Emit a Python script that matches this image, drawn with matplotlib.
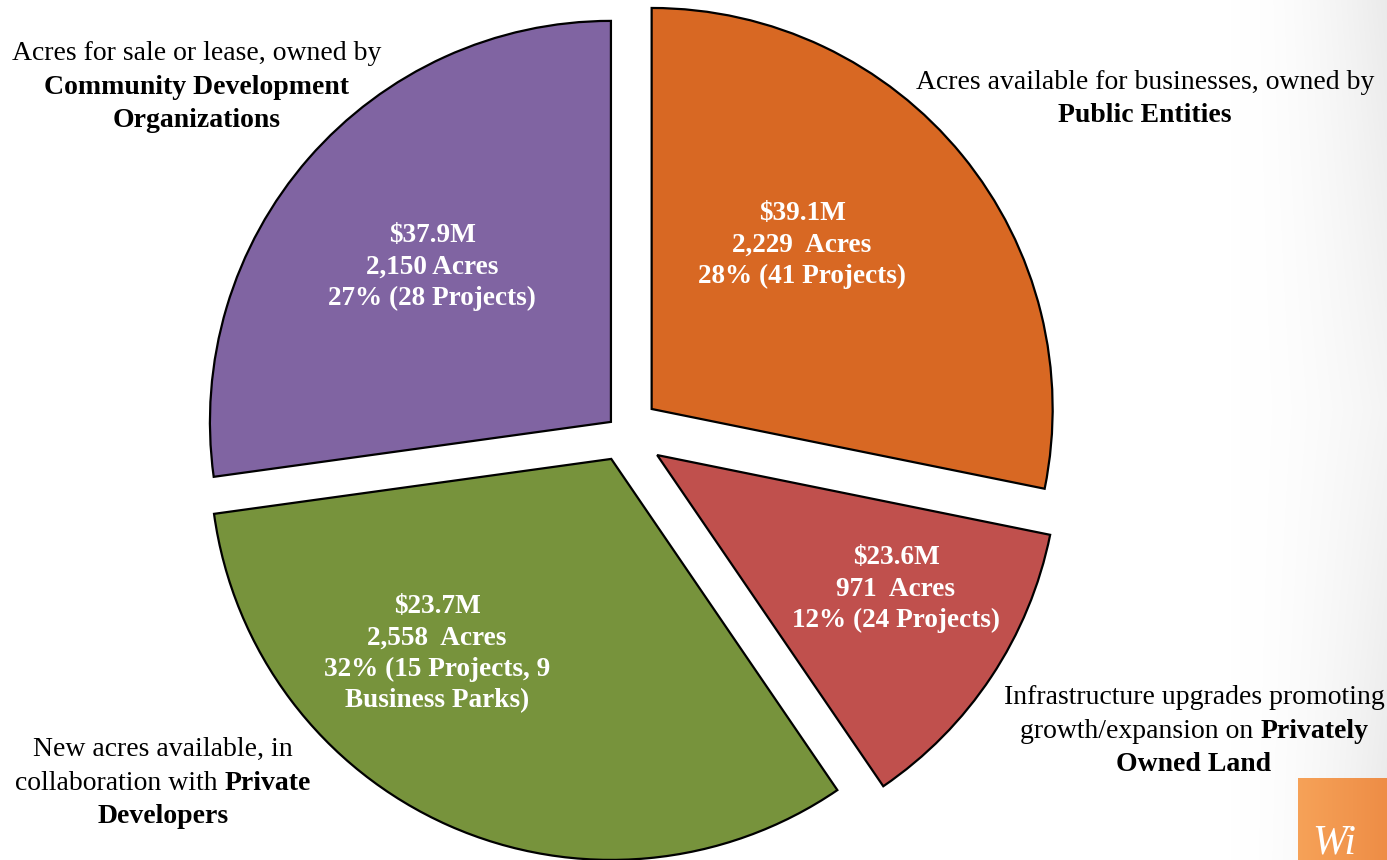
import numpy as np
import matplotlib.pyplot as plt
from matplotlib.patches import Rectangle

# slices in drawing order (clockwise from 12 o'clock)
names = ['Public Entities', 'Privately Owned Land', 'Private Developers',
         'Community Development Organizations']
acres = [2229, 971, 2558, 2150]
colors = ['#D86823', '#C0504D', '#77933C', '#8064A2']
explode = [37, 41, 29, 16]

inner_labels = [
    ['$39.1M', '2,229  Acres', '28% (41 Projects)'],
    ['$23.6M', '971  Acres', '12% (24 Projects)'],
    ['$23.7M', '2,558  Acres', '32% (15 Projects, 9', 'Business Parks)'],
    ['$37.9M', '2,150 Acres', '27% (28 Projects)'],
]
# (x centre, first baseline) in image pixels
inner_pos = [(802, 220), (896, 564), (437, 613), (432, 242)]

outer_labels = [
    [[('Acres available for businesses, owned by', 'normal')],
     [('Public Entities', 'bold')]],
    [[('Infrastructure upgrades promoting', 'normal')],
     [('growth/expansion on ', 'normal'), ('Privately', 'bold')],
     [('Owned Land', 'bold')]],
    [[('New acres available, in', 'normal')],
     [('collaboration with ', 'normal'), ('Private', 'bold')],
     [('Developers', 'bold')]],
    [[('Acres for sale or lease, owned by', 'normal')],
     [('Community Development', 'bold')],
     [('Organizations', 'bold')]],
]
outer_pos = [(1145, 89), (1194, 704), (163, 756), (197, 60)]

W, H = 1387, 860
FS_OUT = 20
FS_IN = 19.6
LS = 33.5
FONT = 'Liberation Serif'

fig = plt.figure(figsize=(W / 100, H / 100), dpi=100)
ax = fig.add_axes([0, 0, 1, 1])

# light grey vignette on the right edge of the slide
xx, yy = np.meshgrid(np.arange(W), np.arange(H))
t = np.clip((xx - 1230) / 157.0, 0, 1) ** 1.8
shade = 1 - 0.085 * t * (0.5 + 0.5 * np.abs(yy - 450) / 450)
ax.imshow(np.dstack([shade] * 3), extent=(0, W, H, 0), origin='upper', zorder=0)

wedges, _ = ax.pie(acres,
                   explode=explode,
                   colors=colors,
                   startangle=90,
                   counterclock=False,
                   center=(623, H - 432.4),
                   radius=401,
                   wedgeprops=dict(edgecolor='black', linewidth=1.6))
for w in wedges:
    w.set_zorder(2)

ax.set_xlim(0, W)
ax.set_ylim(0, H)
ax.set_aspect('auto')
ax.axis('off')

renderer = fig.canvas.get_renderer()


def line(xc, y_img, parts, size, color='black'):
    texts = []
    for s, wgt in parts:
        texts.append(ax.text(0, H - y_img, s, fontsize=size, family=FONT,
                             weight=wgt, color=color, ha='left',
                             va='baseline', zorder=5))
    widths = [tx.get_window_extent(renderer).width for tx in texts]
    x = xc - sum(widths) / 2
    for tx, wd in zip(texts, widths):
        tx.set_x(x)
        x += wd


for lines, (xc, y0) in zip(inner_labels, inner_pos):
    for i, s in enumerate(lines):
        line(xc, y0 + i * 31.5, [(s, 'bold')], FS_IN, color='white')

for lines, (xc, y0) in zip(outer_labels, outer_pos):
    for i, parts in enumerate(lines):
        line(xc, y0 + i * LS, parts, FS_OUT)

# corner logo
grad = np.linspace(0, 1, 90)[None, :]
c0 = np.array([0.965, 0.635, 0.345])
c1 = np.array([0.933, 0.553, 0.275])
logo = c0[None, None, :] * (1 - grad[..., None]) + c1[None, None, :] * grad[..., None]
logo = np.repeat(logo, 82, axis=0)
ax.imshow(logo, extent=(1298, W, 0, H - 778), origin='upper', zorder=3)
ax.text(1312, H - 853, 'Wi', fontsize=30, family=FONT, style='italic',
        color='white', ha='left', va='baseline', zorder=4)

fig.savefig('out.png', dpi=100)
